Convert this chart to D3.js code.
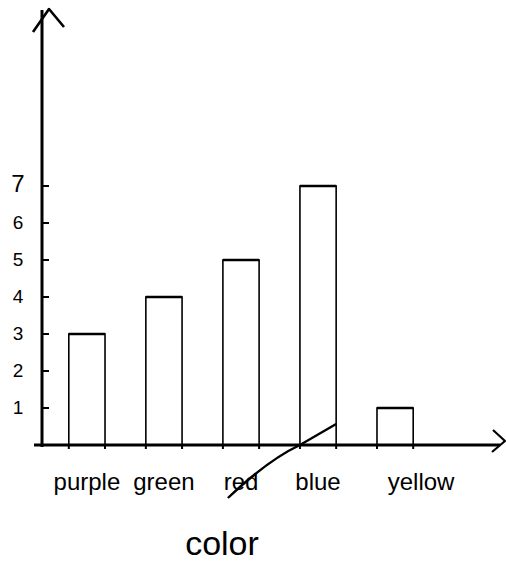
<!DOCTYPE html>
<html>
<head>
<meta charset="utf-8">
<script src="https://cdn.jsdelivr.net/npm/d3@7"></script>
<style>
  body { margin: 0; background: #fff; }
  text { font-family: "Liberation Sans", "DejaVu Sans", sans-serif; fill: #000; }
</style>
</head>
<body>
<div id="chart"></div>
<script>
// hand drawn bar chart: counts per colour
const colors = ["purple", "green", "red", "blue", "yellow"];
const counts = [3, 4, 5, 7, 1];
const yTicks = [1, 2, 3, 4, 5, 6, 7];
const xTitle = "color";

const width = 506, height = 562;
const baseY = 445, axisX = 42;

const svg = d3.select("#chart").append("svg")
    .attr("width", width)
    .attr("height", height);

const x = d3.scaleBand()
    .domain(colors)
    .range([48, 434])
    .paddingInner(0.53)
    .paddingOuter(0.27);

const y = d3.scaleLinear()
    .domain([0, 7])
    .range([baseY, 186]);

// bars (open rectangles)
svg.selectAll("rect.bar")
    .data(colors)
    .enter().append("rect")
    .attr("class", "bar")
    .attr("x", d => x(d))
    .attr("y", (d, i) => y(counts[i]))
    .attr("width", x.bandwidth())
    .attr("height", (d, i) => baseY - y(counts[i]))
    .attr("fill", "none")
    .attr("stroke", "#000")
    .attr("stroke-width", 1.6);

// thicker top edges
svg.selectAll("line.top")
    .data(colors)
    .enter().append("line")
    .attr("x1", d => x(d))
    .attr("x2", d => x(d) + x.bandwidth())
    .attr("y1", (d, i) => y(counts[i]))
    .attr("y2", (d, i) => y(counts[i]))
    .attr("stroke", "#000")
    .attr("stroke-width", 2.4);

// y axis with arrow
svg.append("line")
    .attr("x1", axisX).attr("x2", axisX)
    .attr("y1", baseY + 2).attr("y2", 10)
    .attr("stroke", "#000").attr("stroke-width", 3);
svg.append("path")
    .attr("d", `M${axisX - 9},${32} L${axisX + 7},${9} L${axisX + 22},${27}`)
    .attr("fill", "none").attr("stroke", "#000").attr("stroke-width", 2.6)
    .attr("stroke-linejoin", "round");

// y ticks and labels
svg.selectAll("line.ytick")
    .data(yTicks)
    .enter().append("line")
    .attr("x1", axisX).attr("x2", axisX + 7)
    .attr("y1", d => y(d)).attr("y2", d => y(d))
    .attr("stroke", "#000").attr("stroke-width", 2);

svg.selectAll("text.ylab")
    .data(yTicks)
    .enter().append("text")
    .attr("x", 18)
    .attr("y", d => y(d) + 6)
    .attr("text-anchor", "middle")
    .attr("font-size", d => d === 7 ? 24 : 19)
    .text(d => d);

// x axis with arrow
svg.append("line")
    .attr("x1", 34).attr("x2", 500)
    .attr("y1", baseY).attr("y2", baseY)
    .attr("stroke", "#000").attr("stroke-width", 3);
svg.append("path")
    .attr("d", "M493,430 L505,441 L492,452")
    .attr("fill", "none").attr("stroke", "#000").attr("stroke-width", 2.2);

// tick stubs at bar edges
const edges = colors.flatMap(d => [x(d), x(d) + x.bandwidth()]);
svg.selectAll("line.xtick")
    .data(edges)
    .enter().append("line")
    .attr("x1", d => d).attr("x2", d => d)
    .attr("y1", baseY).attr("y2", baseY + 4)
    .attr("stroke", "#000").attr("stroke-width", 2);

// category labels
svg.selectAll("text.xlab")
    .data(colors)
    .enter().append("text")
    .attr("x", d => x(d) + x.bandwidth() / 2 + (d === "yellow" ? 26 : 0))
    .attr("y", 490)
    .attr("text-anchor", "middle")
    .attr("font-size", 24)
    .text(d => d);

// stray pen stroke across "red"
const redX = x("red"), blueX = x("blue");
svg.append("path")
    .attr("d", `M${redX + 5},${498} Q${redX + 45},${460} ${blueX},${baseY} L${blueX + x.bandwidth()},${424}`)
    .attr("fill", "none").attr("stroke", "#000").attr("stroke-width", 2.4);

// axis title
svg.append("text")
    .attr("x", 222)
    .attr("y", 555)
    .attr("text-anchor", "middle")
    .attr("font-size", 34)
    .text(xTitle);
</script>
</body>
</html>
